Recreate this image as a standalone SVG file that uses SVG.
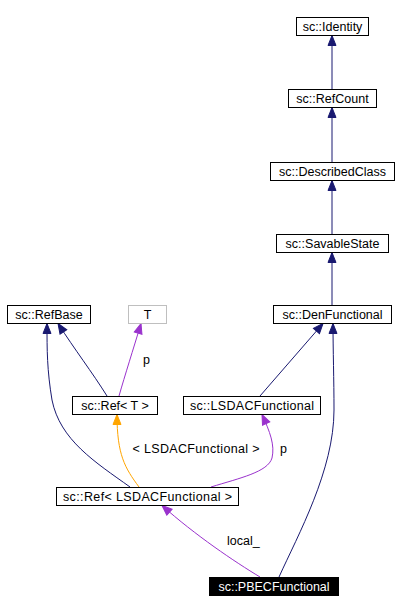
<svg xmlns="http://www.w3.org/2000/svg" width="400" height="614" viewBox="0 0 400 614">
<style>
.box{fill:#fff;stroke:#000;stroke-width:1}
.lbl{font-family:"Liberation Sans",Arial,Helvetica,sans-serif;font-size:12.5px;fill:#000}
.c{text-anchor:middle}
.e{fill:none;stroke-width:1}
.navy{stroke:#191970}
.purple{stroke:#9a32cd}
.orange{stroke:#ffa500}
</style>
<defs>
<marker id="aN" markerUnits="userSpaceOnUse" markerWidth="12" markerHeight="10" viewBox="-11 -5 12 10" refX="0" refY="0" orient="auto"><path d="M0,0 L-10,-4 L-10,4 Z" fill="#191970" stroke="#191970" stroke-width="1"/></marker>
<marker id="aP" markerUnits="userSpaceOnUse" markerWidth="12" markerHeight="10" viewBox="-11 -5 12 10" refX="0" refY="0" orient="auto"><path d="M0,0 L-10,-4 L-10,4 Z" fill="#9a32cd" stroke="#9a32cd" stroke-width="1"/></marker>
<marker id="aO" markerUnits="userSpaceOnUse" markerWidth="12" markerHeight="10" viewBox="-11 -5 12 10" refX="0" refY="0" orient="auto"><path d="M0,0 L-10,-4 L-10,4 Z" fill="#ffa500" stroke="#ffa500" stroke-width="1"/></marker>
</defs>
<rect width="400" height="614" fill="#fff"/>
<g id="connectors">
<path class="e navy" d="M332,89 L332,35.5" marker-end="url(#aN)"/>
<path class="e navy" d="M332,162 L332,107.5" marker-end="url(#aN)"/>
<path class="e navy" d="M332,234 L332,180.5" marker-end="url(#aN)"/>
<path class="e navy" d="M332,305 L332,252.5" marker-end="url(#aN)"/>
<path class="e navy" d="M260,396 L323,323.5" marker-end="url(#aN)"/>
<path class="e navy" d="M279,577 C298,535 334,470 334,410 C334,380 333,350 333,323.5" marker-end="url(#aN)"/>
<path class="e navy" d="M107,396 C92,372 75,350 58,323.5" marker-end="url(#aN)"/>
<path class="e navy" d="M130,487 C95,462 60,440 52,400 C47,370 47,350 47,323.5" marker-end="url(#aN)"/>
<path class="e purple" d="M119,396 C125,375 133,350 141,323.5" marker-end="url(#aP)"/>
<path class="e orange" d="M139,487 C125,468 117,455 117,414.5" marker-end="url(#aO)"/>
<path class="e purple" d="M211,487 C240,478 268,472 272,458 C275,445 270,432 262,414.5" marker-end="url(#aP)"/>
<path class="e purple" d="M260,577 C235,562 195,535 162,505.5" marker-end="url(#aP)"/>
<text class="lbl" x="143" y="364">p</text>
<text class="lbl c" x="196" y="453" textLength="127" lengthAdjust="spacing">&lt; LSDACFunctional &gt;</text>
<text class="lbl" x="280" y="453">p</text>
<text class="lbl" x="227" y="545">local_</text>
</g>
<g id="n_identity"><rect class="box" x="296.5" y="17.5" width="72" height="18"/><text class="lbl c" x="332.5" y="31">sc::Identity</text></g>
<g id="n_refcount"><rect class="box" x="288.5" y="89.5" width="88" height="18"/><text class="lbl c" x="332.5" y="103">sc::RefCount</text></g>
<g id="n_describedclass"><rect class="box" x="270.5" y="162.5" width="124" height="18"/><text class="lbl c" x="332.5" y="176">sc::DescribedClass</text></g>
<g id="n_savablestate"><rect class="box" x="276.5" y="234.5" width="112" height="18"/><text class="lbl c" x="332.5" y="248">sc::SavableState</text></g>
<g id="n_denfunctional"><rect class="box" x="273.5" y="305.5" width="118" height="18"/><text class="lbl c" x="332.5" y="319">sc::DenFunctional</text></g>
<g id="n_refbase"><rect class="box" x="7.5" y="305.5" width="83" height="18"/><text class="lbl c" x="49" y="319">sc::RefBase</text></g>
<g id="n_t"><rect x="128.5" y="305.5" width="38" height="18" fill="#fff" stroke="#bfbfbf"/><text class="lbl c" x="147.5" y="319">T</text></g>
<g id="n_reft"><rect class="box" x="72.5" y="396.5" width="85" height="18"/><text class="lbl c" x="115" y="410">sc::Ref&lt; T &gt;</text></g>
<g id="n_lsdac"><rect class="box" x="183.5" y="396.5" width="137" height="18"/><text class="lbl c" x="252" y="410" textLength="124" lengthAdjust="spacing">sc::LSDACFunctional</text></g>
<g id="n_reflsdac"><rect class="box" x="56.5" y="487.5" width="182" height="18"/><text class="lbl c" x="147.5" y="501" textLength="169" lengthAdjust="spacing">sc::Ref&lt; LSDACFunctional &gt;</text></g>
<g id="n_pbec"><rect x="209" y="577" width="130" height="19" fill="#000"/><text class="lbl c" x="274" y="591" style="fill:#fff">sc::PBECFunctional</text></g>
</svg>
